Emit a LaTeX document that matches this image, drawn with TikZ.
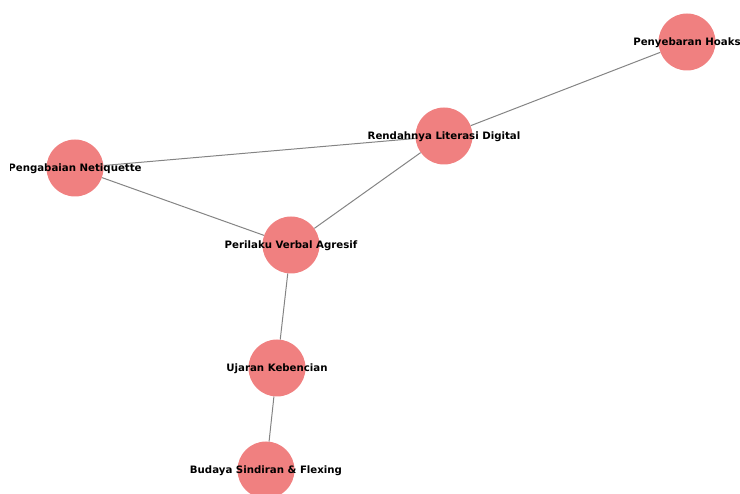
\documentclass[tikz,border=0pt]{standalone}
\usepackage{fontspec}
\setmainfont{DejaVu Sans}
\usepackage{xcolor}
\usetikzlibrary{positioning}
\definecolor{nodecoral}{HTML}{F08080}
\definecolor{edgegray}{HTML}{848484}

\begin{document}
\begin{tikzpicture}[
  x=1pt, y=-1pt,
  dot/.style={circle, fill=nodecoral, draw=none, minimum size=57pt, inner sep=0pt},
  lbl/.style={font=\bfseries\fontsize{10.2}{12}\selectfont, text=black, inner sep=0pt, yshift=-1pt},
  link/.style={draw=edgegray, line width=1pt}
]
\useasboundingbox (0,0) rectangle (740,494);
\clip (10,0) rectangle (740,494);

% circles
\node[dot] (hoaks) at (687,42) {};
\node[dot] (literasi) at (444,136) {};
\node[dot] (netiquette) at (75,168) {};
\node[dot] (agresif) at (291,245) {};
\node[dot] (kebencian) at (277,368) {};
\node[dot] (sindiran) at (266,470) {};

% edges
\draw[link] (hoaks) -- (literasi);
\draw[link] (literasi) -- (netiquette);
\draw[link] (literasi) -- (agresif);
\draw[link] (netiquette) -- (agresif);
\draw[link] (agresif) -- (kebencian);
\draw[link] (kebencian) -- (sindiran);

% labels
\node[lbl] (hoakstext) at (hoaks) {Penyebaran Hoaks};
\node[lbl] (literasitext) at (literasi) {Rendahnya Literasi Digital};
\node[lbl] (netiquettetext) at (netiquette) {Pengabaian Netiquette};
\node[lbl] (agresiftext) at (agresif) {Perilaku Verbal Agresif};
\node[lbl] (kebenciantext) at (kebencian) {Ujaran Kebencian};
\node[lbl] (sindirantext) at (sindiran) {Budaya Sindiran \& Flexing};
\end{tikzpicture}
\end{document}
